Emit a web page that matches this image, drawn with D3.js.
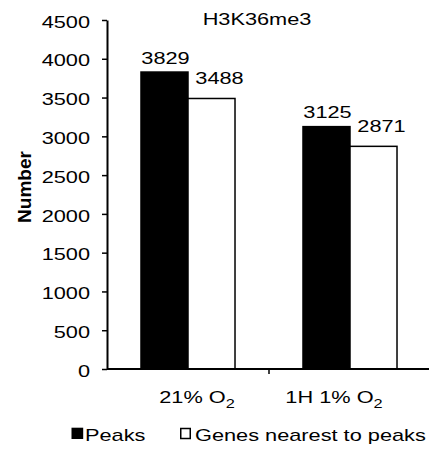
<!DOCTYPE html>
<html>
<head>
<meta charset="utf-8">
<script src="https://cdn.jsdelivr.net/npm/d3@7"></script>
<style>
  html, body { margin: 0; padding: 0; background: #fff; }
  svg { display: block; }
  text { font-family: "Liberation Sans", Arial, Helvetica, sans-serif; fill: #000; }
</style>
</head>
<body>
<svg id="chart" width="429" height="451"></svg>
<script>
// ---- data ----
const title = "H3K36me3";
const categories = ["21% O", "1H 1% O"];
const categorySub = ["2", "2"];
const seriesNames = ["Peaks", "Genes nearest to peaks"];
const peaks = [3829, 3125];
const genes = [3488, 2871];
const yTicks = [0, 500, 1000, 1500, 2000, 2500, 3000, 3500, 4000, 4500];
const yTitle = "Number";

// ---- layout ----
const svg = d3.select("#chart");
const SX = 1.36;          // horizontal text stretch seen in the reference
const FS = 16;            // base font size
const plot = { left: 107, right: 431, top: 20, bottom: 369 };

const y = d3.scaleLinear().domain([0, 4500]).range([plot.bottom, plot.top]);
const x0 = d3.scaleBand().domain(categories).range([plot.left, plot.right]).paddingInner(0).paddingOuter(0);
const x1 = d3.scaleBand().domain(seriesNames).range([0, x0.bandwidth()]).paddingInner(0).paddingOuter(0.723);

const rows = categories.map((c, i) => ({ cat: c, sub: categorySub[i], values: [
  { s: seriesNames[0], v: peaks[i] },
  { s: seriesNames[1], v: genes[i] }
]}));
const fills = { [seriesNames[0]]: "#000", [seriesNames[1]]: "#fff" };

// bars
const groups = svg.selectAll("g.grp").data(rows).join("g")
  .attr("class", "grp")
  .attr("transform", d => `translate(${x0(d.cat)},0)`);
groups.selectAll("rect").data(d => d.values).join("rect")
  .attr("x", d => x1(d.s))
  .attr("width", x1.bandwidth())
  .attr("y", d => y(d.v))
  .attr("height", d => y(0) - y(d.v))
  .attr("fill", d => fills[d.s])
  .attr("stroke", "#000")
  .attr("stroke-width", 1.5);

// value labels
const labelOffset = { [seriesNames[0]]: { dx: 1, dy: -8.5 }, [seriesNames[1]]: { dx: 8, dy: -14 } };
groups.selectAll("text.val").data(d => d.values).join("text")
  .attr("class", "val")
  .attr("text-anchor", "middle")
  .attr("font-size", FS)
  .attr("transform", d => `translate(${x1(d.s) + x1.bandwidth() / 2 + labelOffset[d.s].dx},${y(d.v) + labelOffset[d.s].dy}) scale(${SX},1)`)
  .text(d => d.v);

// y axis
const yAxis = d3.axisLeft(y).tickValues(yTicks).tickSize(5).tickSizeOuter(0).tickFormat("");
const gy = svg.append("g").attr("transform", `translate(${plot.left},0)`).call(yAxis);
gy.select(".domain").attr("stroke", "#000").attr("stroke-width", 2);
gy.selectAll(".tick line").attr("stroke", "#000").attr("stroke-width", 1.5);
svg.append("g").selectAll("text").data(yTicks).join("text")
  .attr("text-anchor", "end")
  .attr("font-size", FS)
  .attr("transform", d => `translate(90,${y(d) + 7.7}) scale(${SX},1)`)
  .text(d => d);

// x axis
svg.append("line")
  .attr("x1", plot.left).attr("x2", plot.right)
  .attr("y1", y(0)).attr("y2", y(0))
  .attr("stroke", "#000").attr("stroke-width", 2);
const boundaries = categories.slice(1).map(c => x0(c));
svg.append("g").selectAll("line").data(boundaries).join("line")
  .attr("x1", d => d).attr("x2", d => d)
  .attr("y1", y(0)).attr("y2", y(0) + 5)
  .attr("stroke", "#000").attr("stroke-width", 1.5);

// category labels
const labelNudge = [9, -16];
const cl = svg.append("g").selectAll("text").data(rows).join("text")
  .attr("text-anchor", "middle")
  .attr("font-size", FS)
  .attr("transform", (d, i) => `translate(${x0(d.cat) + x0.bandwidth() / 2 + labelNudge[i]},403) scale(${SX},1)`);
cl.append("tspan").text(d => d.cat);
cl.append("tspan").attr("font-size", 12).attr("dy", 4.5).text(d => d.sub);

// title
svg.append("text")
  .attr("text-anchor", "middle")
  .attr("font-size", FS)
  .attr("transform", `translate(257,25) scale(${SX},1)`)
  .text(title);

// y title
svg.append("text")
  .attr("text-anchor", "middle")
  .attr("font-size", 18.5)
  .attr("font-weight", "bold")
  .attr("transform", `translate(31,187) rotate(-90) scale(1.03,1)`)
  .text(yTitle);

// legend
const legendItems = [
  { name: seriesNames[0], x: 71.5 },
  { name: seriesNames[1], x: 180 }
];
const lg = svg.append("g").selectAll("g").data(legendItems).join("g")
  .attr("transform", d => `translate(${d.x},0)`);
lg.append("rect")
  .attr("x", d => fills[d.name] === "#000" ? 0 : 0.75)
  .attr("y", d => fills[d.name] === "#000" ? 427.7 : 428.5)
  .attr("width", d => fills[d.name] === "#000" ? 11.7 : 9.5)
  .attr("height", d => fills[d.name] === "#000" ? 11.3 : 10)
  .attr("fill", d => fills[d.name])
  .attr("stroke", "#000")
  .attr("stroke-width", d => fills[d.name] === "#000" ? 0 : 1.5);
lg.append("text")
  .attr("font-size", FS)
  .attr("transform", d => `translate(${fills[d.name] === "#000" ? 13.5 : 15},441) scale(${SX},1)`)
  .text(d => d.name);
</script>
</body>
</html>
